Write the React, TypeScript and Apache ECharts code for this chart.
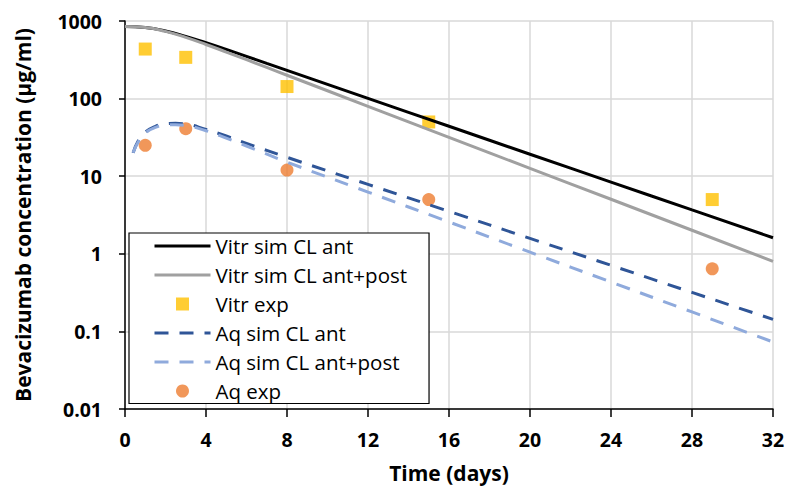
import React, { useEffect, useRef } from "react";
import * as echarts from "echarts";

// Simulated curves (days, µg/ml)
const vitrAntDays = [0, 1, 2, 3, 4, 5, 6, 7, 8, 12, 16, 20, 24, 28, 32];
const vitrAnt = [849, 826, 745, 634, 525, 430, 350, 284, 231, 100.7, 44, 19.2, 8.4, 3.68, 1.61];

const vitrAntPostDays = [0, 1, 2, 3, 4, 5, 6, 7, 8, 12, 16, 20, 24, 28, 32];
const vitrAntPost = [849, 824, 735, 614, 498, 398, 317, 252, 200, 79.6, 31.7, 12.6, 5.05, 2.01, 0.8];

const aqAntDays = [0.4, 0.7, 1, 1.5, 2, 2.5, 3, 4, 5, 6, 8, 12, 16, 20, 24, 28, 32];
const aqAnt = [20, 30, 37, 44, 47.5, 48, 47, 40, 33, 26.5, 17.5, 7.85, 3.52, 1.58, 0.71, 0.318, 0.143];

const aqAntPostDays = [0.4, 0.7, 1, 1.5, 2, 2.5, 3, 4, 5, 6, 8, 12, 16, 20, 24, 28, 32];
const aqAntPost = [20, 29, 36, 42.5, 45.5, 46, 45, 38.5, 31, 24.5, 15.2, 6.25, 2.57, 1.05, 0.433, 0.178, 0.073];

// Experimental data
const vitrExpDays = [1, 3, 8, 15, 29];
const vitrExp = [435, 340, 143, 50, 5];
const aqExpDays = [1, 3, 8, 15, 29];
const aqExp = [25, 41, 12, 5, 0.64];

const seriesNames = [
  "Vitr sim CL ant",
  "Vitr sim CL ant+post",
  "Vitr exp",
  "Aq sim CL ant",
  "Aq sim CL ant+post",
  "Aq exp",
];

const zip = (xs: number[], ys: number[]) => xs.map((x, i) => [x, ys[i]]);

const FONT = "Open Sans";

export default function App() {
  const ref = useRef<HTMLDivElement>(null);
  useEffect(() => {
    if (!ref.current) return;
    const chart = echarts.init(ref.current, null, { renderer: "svg" });
    const dash = [14, 11];
    const hiddenSymbol = { color: "rgba(0,0,0,0)", opacity: 0, borderWidth: 0 };
    chart.setOption({
      animation: false,
      backgroundColor: "#ffffff",
      grid: { left: 125, right: 23, top: 21, bottom: 90, containLabel: false },
      xAxis: {
        type: "value",
        min: 0,
        max: 32,
        interval: 4,
        name: "Time (days)",
        nameLocation: "middle",
        nameGap: 53,
        nameTextStyle: { fontFamily: FONT, fontWeight: "bold", fontSize: 21, color: "#000" },
        axisLine: { lineStyle: { color: "#000", width: 1.5 } },
        axisTick: { show: true, inside: false, length: 8, lineStyle: { color: "#000", width: 1.5 } },
        axisLabel: { fontFamily: FONT, fontWeight: "bold", fontSize: 19.5, color: "#000", margin: 20 },
        splitLine: { show: true, lineStyle: { color: "#d9d9d9", width: 1.5 } },
      },
      yAxis: {
        type: "log",
        logBase: 10,
        min: 0.01,
        max: 1000,
        name: "Bevacizumab concentration (µg/ml)",
        nameLocation: "middle",
        nameGap: 92,
        nameTextStyle: { fontFamily: FONT, fontWeight: "bold", fontSize: 21, color: "#000" },
        axisLine: { show: true, lineStyle: { color: "#000", width: 1.5 } },
        axisTick: { show: true, inside: false, length: 6, lineStyle: { color: "#000", width: 1.5 } },
        axisLabel: {
          fontFamily: FONT,
          fontWeight: "bold",
          fontSize: 19.5,
          color: "#000",
          margin: 23,
          formatter: (v: number) => String(parseFloat(v.toPrecision(6))),
        },
        splitLine: { show: true, lineStyle: { color: "#d9d9d9", width: 1.5 } },
        minorTick: { show: false },
      },
      legend: {
        orient: "vertical",
        left: 129,
        top: 233,
        data: [
          { name: seriesNames[0], itemStyle: hiddenSymbol },
          { name: seriesNames[1], itemStyle: hiddenSymbol },
          { name: seriesNames[2], icon: "path://M0,0H1V1H0Z" },
          { name: seriesNames[3], itemStyle: hiddenSymbol },
          { name: seriesNames[4], itemStyle: hiddenSymbol },
          { name: seriesNames[5], icon: "circle" },
        ],
        itemWidth: 56,
        itemHeight: 13,
        itemGap: 8,
        padding: [2.5, 22, 2, 24],
        backgroundColor: "#ffffff",
        borderColor: "#000",
        borderWidth: 1.2,
        borderRadius: 0,
        lineStyle: { width: 3 },
        textStyle: { fontFamily: FONT, fontSize: 20.5, color: "#000", width: 188, lineHeight: 21 },
      },
      series: [
        {
          name: seriesNames[0],
          type: "line",
          data: zip(vitrAntDays, vitrAnt),
          smooth: true,
          symbol: "none",
          lineStyle: { color: "#000000", width: 3 },
          itemStyle: { color: "#000000" },
        },
        {
          name: seriesNames[1],
          type: "line",
          data: zip(vitrAntPostDays, vitrAntPost),
          smooth: true,
          symbol: "none",
          lineStyle: { color: "#a0a0a0", width: 3 },
          itemStyle: { color: "#a0a0a0" },
        },
        {
          name: seriesNames[2],
          type: "scatter",
          data: zip(vitrExpDays, vitrExp),
          symbol: "rect",
          symbolSize: 13,
          itemStyle: { color: "#FFC000" },
        },
        {
          name: seriesNames[3],
          type: "line",
          data: zip(aqAntDays, aqAnt),
          smooth: true,
          symbol: "none",
          lineStyle: { color: "#2F5597", width: 3, type: dash },
          itemStyle: { color: "#2F5597" },
        },
        {
          name: seriesNames[4],
          type: "line",
          data: zip(aqAntPostDays, aqAntPost),
          smooth: true,
          symbol: "none",
          lineStyle: { color: "#8FAADC", width: 3, type: dash },
          itemStyle: { color: "#8FAADC" },
        },
        {
          name: seriesNames[5],
          type: "scatter",
          data: zip(aqExpDays, aqExp),
          symbol: "circle",
          symbolSize: 13,
          itemStyle: { color: "#ED7D31" },
        },
      ],
    });
    return () => chart.dispose();
  }, []);
  return (
    <div
      ref={ref}
      style={{ position: "fixed", left: 0, top: 0, width: 796, height: 499, background: "#fff" }}
    />
  );
}
